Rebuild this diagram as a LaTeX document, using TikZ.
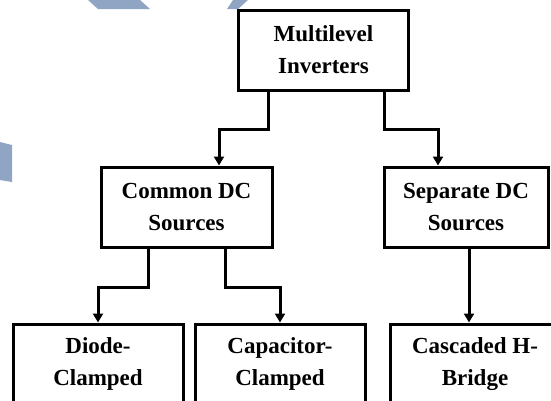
\documentclass[tikz,border=0pt]{standalone}
\usepackage{fontspec}
\setmainfont{Liberation Serif}
\usetikzlibrary{arrows.meta}
\definecolor{wm}{RGB}{143,165,195}
\tikzset{
  box/.style={draw=black, line width=3pt, minimum width=170pt, minimum height=80pt,
    align=center, inner sep=0pt, font=\fontsize{23}{32}\selectfont\bfseries},
  arr/.style={draw=black, line width=3pt, -{Triangle[length=9pt,width=10pt]}}
}
\begin{document}
\begin{tikzpicture}[x=1pt,y=-1pt]
\useasboundingbox (0,0) rectangle (551,400);
\clip (0,0) rectangle (551,400);
\fill[white] (0,0) rectangle (551,400);
% watermark shapes
\fill[wm] (88,0) -- (140,0) -- (150,9) -- (98,9) -- cycle;
\fill[wm] (233,0) -- (248,0) -- (238,9) -- (227,9) -- cycle;
\fill[wm] (0,142) -- (12,145) -- (12,182) -- (0,180) -- cycle;
% nodes
\node[box] (top) at (323.5,50) {Multilevel\\Inverters};
\node[box, minimum width=171pt] (common) at (186.5,207) {Common DC\\Sources};
\node[box, minimum width=164pt] (separate) at (466,207) {Separate DC\\Sources};
\node[box] (diode) at (98,364) {Diode-\\Clamped};
\node[box] (cap) at (280,364) {Capacitor-\\Clamped};
\node[box] (casc) at (475,364) {Cascaded H-\\Bridge};
% connectors
\draw[arr] ([xshift=-55pt]top.south) -- ++(0,38) -| ([xshift=32.5pt]common.north);
\draw[arr] ([xshift=61pt]top.south) -- ++(0,38) -| ([xshift=-28pt]separate.north);
\draw[arr] ([xshift=-38.5pt]common.south) -- ++(0,39) -| (diode.north);
\draw[arr] ([xshift=38.5pt]common.south) -- ++(0,39) -| (cap.north);
\draw[arr] ([xshift=3pt]separate.south) -- ([xshift=3pt]separate.south |- casc.north);
\end{tikzpicture}
\end{document}
